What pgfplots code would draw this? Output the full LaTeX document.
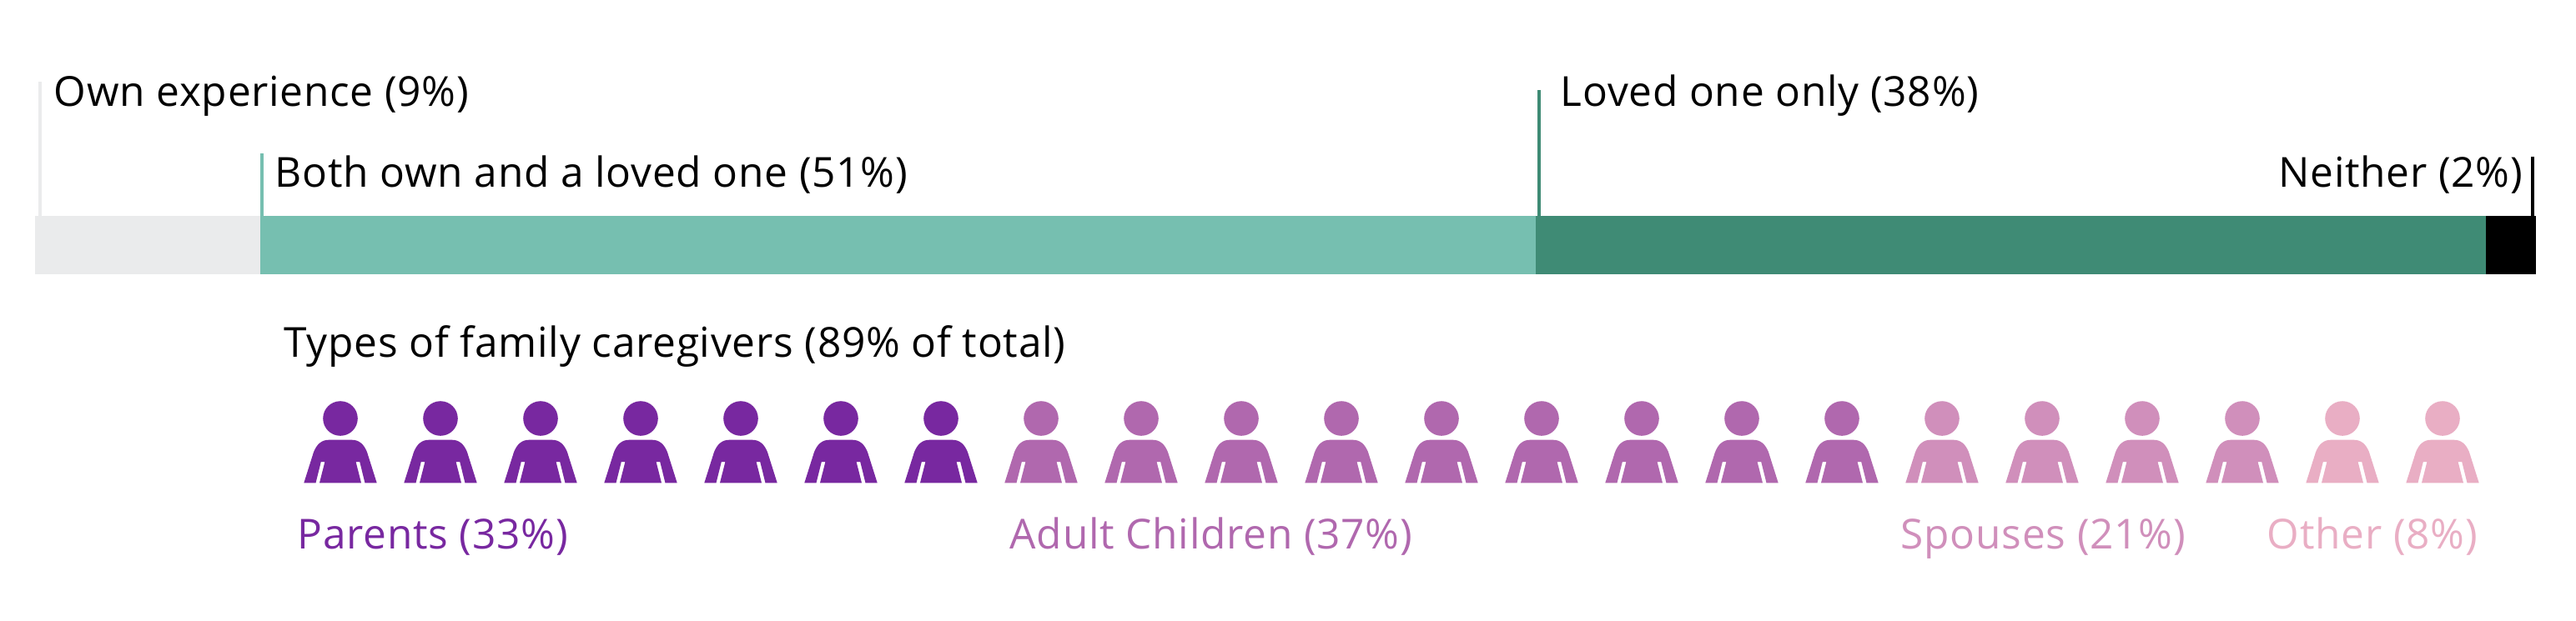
\documentclass[border=0pt]{standalone}
\usepackage{pgfplots}
\pgfplotsset{compat=1.18}
\usepackage{fontspec}
\setmainfont[LetterSpace=1.5]{Open Sans}
\definecolor{cgray}{HTML}{EAEBEC}
\definecolor{cmint}{HTML}{76BFB0}
\definecolor{cgreen}{HTML}{3F8B75}
\definecolor{cpar}{HTML}{7828A0}
\definecolor{cadu}{HTML}{B068AE}
\definecolor{cspo}{HTML}{D08FBB}
\definecolor{coth}{HTML}{E9AEC4}
\newcommand{\PP}[2]{\pgfpoint{#1*0.25pt}{#2*0.25pt}}
\pgfdeclareplotmark{person}{%
  \pgfpathcircle{\PP{0}{77.3}}{5.2pt}%
  \pgfpathmoveto{\PP{-43.7}{0}}%
  \pgfpathlineto{\PP{-29.5}{0}}%
  \pgfpathlineto{\PP{-23.2}{25.3}}%
  \pgfpathlineto{\PP{-18.6}{25.3}}%
  \pgfpathlineto{\PP{-25}{0}}%
  \pgfpathlineto{\PP{25}{0}}%
  \pgfpathlineto{\PP{18.6}{25.3}}%
  \pgfpathlineto{\PP{23.2}{25.3}}%
  \pgfpathlineto{\PP{29.5}{0}}%
  \pgfpathlineto{\PP{43.7}{0}}%
  \pgfpathlineto{\PP{32}{37}}%
  \pgfpathcurveto{\PP{28}{47}}{\PP{22}{51.6}}{\PP{14}{51.6}}%
  \pgfpathlineto{\PP{-14}{51.6}}%
  \pgfpathcurveto{\PP{-22}{51.6}}{\PP{-28}{47}}{\PP{-32}{37}}%
  \pgfpathclose
  \pgfusepathqfill
}
\tikzset{lab/.style={inner sep=0pt,font=\fontsize{12.4}{14}\selectfont}}
\begin{document}
\begin{tikzpicture}
\path[use as bounding box] (0,0) rectangle (772pt,186pt);
\pgfplotsset{base/.style={scale only axis,width=772pt,height=186pt,
  axis lines=none,ymin=0,ymax=744,y dir=reverse,clip=false}}
\begin{axis}[base,at={(0,0)},anchor=south west,xmin=-1.401,xmax=101.6,xbar stacked,bar width=17.5pt,bar shift=0pt]
\addplot[fill=cgray,draw=none] coordinates {(9,294)};
\addplot[fill=cmint,draw=none] coordinates {(51,294)};
\addplot[fill=cgreen,draw=none] coordinates {(38,294)};
\addplot[fill=black,draw=none] coordinates {(2,294)};
\end{axis}
\begin{axis}[base,at={(0,0)},anchor=south west,xmin=0,xmax=3088]
\addplot[cgray,line width=1pt] coordinates {(48,98) (48,259)};
\addplot[cmint,line width=1pt] coordinates {(314,184) (314,259)};
\addplot[cgreen,line width=1pt] coordinates {(1845,108) (1845,259)};
\addplot[black,line width=1pt] coordinates {(3036,188) (3036,259)};
\addplot[only marks,mark=person,color=cpar] coordinates {(408,579.3)(528,579.3)(648,579.3)(768,579.3)(888,579.3)(1008,579.3)(1128,579.3)};
\addplot[only marks,mark=person,color=cadu] coordinates {(1248,579.3)(1368,579.3)(1488,579.3)(1608,579.3)(1728,579.3)(1848,579.3)(1968,579.3)(2088,579.3)(2208,579.3)};
\addplot[only marks,mark=person,color=cspo] coordinates {(2328,579.3)(2448,579.3)(2568,579.3)(2688,579.3)};
\addplot[only marks,mark=person,color=coth] coordinates {(2808,579.3)(2928,579.3)};
\node[lab,anchor=base west] at (axis cs:64,127) {Own experience (9\%)};
\node[lab,anchor=base west] at (axis cs:329,224) {Both own and a loved one (51\%)};
\node[lab,anchor=base west] at (axis cs:1870,127) {Loved one only (38\%)};
\node[lab,anchor=base east] at (axis cs:3025,224) {Neither (2\%)};
\node[lab,anchor=base west] at (axis cs:340,428) {Types of family caregivers (89\% of total)};
\node[lab,anchor=base west,text=cpar] at (axis cs:356,658) {Parents (33\%)};
\node[lab,anchor=base west,text=cadu] at (axis cs:1210,658) {Adult Children (37\%)};
\node[lab,anchor=base west,text=cspo] at (axis cs:2278,658) {Spouses (21\%)};
\node[lab,anchor=base west,text=coth] at (axis cs:2717,658) {Other (8\%)};
\end{axis}
\end{tikzpicture}
\end{document}
